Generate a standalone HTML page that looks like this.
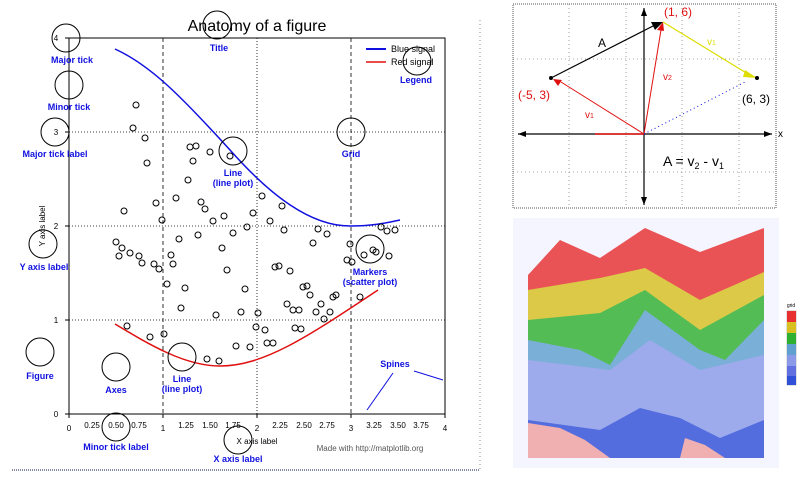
<!DOCTYPE html>
<html><head><meta charset="utf-8"><style>
html,body{margin:0;padding:0;background:#fff;width:800px;height:480px;overflow:hidden}
svg{display:block}
text{font-family:"Liberation Sans",sans-serif}
.a{fill:#1010e0;font-weight:bold;font-size:9px;text-anchor:middle}
.t{font-size:8px;fill:#000;text-anchor:middle}
.c{fill:none;stroke:#000;stroke-width:1}
</style></head><body>
<svg width="800" height="480" viewBox="0 0 800 480">
<line x1="12" y1="470" x2="480" y2="470" stroke="#88a" stroke-width="2" stroke-dasharray="1,1"/>
<line x1="480" y1="20" x2="480" y2="470" stroke="#888" stroke-dasharray="1,3"/>
<text x="257" y="31" font-size="16" text-anchor="middle">Anatomy of a figure</text>
<g stroke="#000" stroke-width="0.8">
<line x1="163" y1="38" x2="163" y2="414" stroke-dasharray="4,3"/>
<line x1="351" y1="38" x2="351" y2="414" stroke-dasharray="4,3"/>
<line x1="257" y1="38" x2="257" y2="414" stroke-dasharray="1,2"/>
<line x1="69" y1="132" x2="445" y2="132" stroke-dasharray="1,2"/>
<line x1="69" y1="226" x2="445" y2="226" stroke-dasharray="1,2"/>
<line x1="69" y1="320" x2="445" y2="320" stroke-dasharray="1,2"/>
</g>
<rect x="69" y="38" width="376" height="376" fill="none" stroke="#000" stroke-width="1"/>
<g stroke="#000">
<line x1="69" y1="414" x2="69" y2="418"/><line x1="163" y1="414" x2="163" y2="418"/><line x1="257" y1="414" x2="257" y2="418"/><line x1="351" y1="414" x2="351" y2="418"/><line x1="445" y1="414" x2="445" y2="418"/>
<line x1="65" y1="38" x2="69" y2="38"/><line x1="65" y1="132" x2="69" y2="132"/><line x1="65" y1="226" x2="69" y2="226"/><line x1="65" y1="320" x2="69" y2="320"/><line x1="65" y1="414" x2="69" y2="414"/>
</g>
<g class="t">
<text x="69" y="431">0</text><text x="163" y="431">1</text><text x="257" y="431">2</text><text x="351" y="431">3</text><text x="445" y="431">4</text>
<text x="92" y="428">0.25</text><text x="116" y="428">0.50</text><text x="139" y="428">0.75</text>
<text x="186" y="428">1.25</text><text x="210" y="428">1.50</text><text x="233" y="428">1.75</text>
<text x="280" y="428">2.25</text><text x="304" y="428">2.50</text><text x="327" y="428">2.75</text>
<text x="374" y="428">3.25</text><text x="398" y="428">3.50</text><text x="421" y="428">3.75</text>
<text x="56" y="417">0</text><text x="56" y="323">1</text><text x="56" y="229">2</text><text x="56" y="135">3</text><text x="56" y="41">4</text>
<text x="257" y="444">X axis label</text>
<text x="45" y="226" transform="rotate(-90 45 226)">Y axis label</text>
<text x="370" y="451" fill="#555">Made with http://matplotlib.org</text>
</g>
<path d="M115,49 C150,65 180,95 230,150 C270,195 310,226 350,226 C375,226 390,222 400,220" fill="none" stroke="#1010e0" stroke-width="1.5"/>
<path d="M115,324 C150,345 185,366 220,366 C265,366 310,335 378,290" fill="none" stroke="#e01010" stroke-width="1.5"/>
<line x1="366" y1="49" x2="386" y2="49" stroke="#1010e0" stroke-width="2"/>
<line x1="366" y1="62" x2="386" y2="62" stroke="#e01010" stroke-width="1.5"/>
<text x="391" y="52" font-size="9">Blue signal</text>
<text x="391" y="65" font-size="9">Red signal</text>
<g class="c" stroke-width="0.9">
<circle cx="136" cy="105" r="3"/><circle cx="133" cy="128" r="3"/><circle cx="145" cy="138" r="3"/><circle cx="147" cy="163" r="3"/><circle cx="124" cy="211" r="3"/><circle cx="116" cy="242" r="3"/><circle cx="122" cy="248" r="3"/><circle cx="119" cy="256" r="3"/><circle cx="130" cy="253" r="3"/><circle cx="139" cy="256" r="3"/><circle cx="142" cy="263" r="3"/><circle cx="154" cy="264" r="3"/><circle cx="159" cy="269" r="3"/><circle cx="156" cy="203" r="3"/><circle cx="162" cy="220" r="3"/><circle cx="127" cy="326" r="3"/><circle cx="150" cy="337" r="3"/><circle cx="164" cy="334" r="3"/><circle cx="176" cy="198" r="3"/><circle cx="188" cy="180" r="3"/><circle cx="193" cy="161" r="3"/><circle cx="190" cy="147" r="3"/><circle cx="196" cy="146" r="3"/><circle cx="210" cy="152" r="3"/><circle cx="230" cy="156" r="3"/><circle cx="179" cy="239" r="3"/><circle cx="171" cy="255" r="3"/><circle cx="173" cy="264" r="3"/><circle cx="167" cy="284" r="3"/><circle cx="185" cy="288" r="3"/><circle cx="181" cy="308" r="3"/><circle cx="201" cy="202" r="3"/><circle cx="205" cy="209" r="3"/><circle cx="213" cy="221" r="3"/><circle cx="224" cy="216" r="3"/><circle cx="198" cy="235" r="3"/><circle cx="222" cy="248" r="3"/><circle cx="233" cy="233" r="3"/><circle cx="247" cy="227" r="3"/><circle cx="253" cy="213" r="3"/><circle cx="262" cy="196" r="3"/><circle cx="270" cy="221" r="3"/><circle cx="282" cy="206" r="3"/><circle cx="284" cy="230" r="3"/><circle cx="227" cy="270" r="3"/><circle cx="245" cy="289" r="3"/><circle cx="216" cy="315" r="3"/><circle cx="241" cy="312" r="3"/><circle cx="258" cy="313" r="3"/><circle cx="256" cy="327" r="3"/><circle cx="265" cy="330" r="3"/><circle cx="267" cy="343" r="3"/><circle cx="273" cy="343" r="3"/><circle cx="236" cy="346" r="3"/><circle cx="250" cy="347" r="3"/><circle cx="207" cy="359" r="3"/><circle cx="219" cy="361" r="3"/><circle cx="275" cy="267" r="3"/><circle cx="279" cy="266" r="3"/><circle cx="290" cy="271" r="3"/><circle cx="303" cy="287" r="3"/><circle cx="307" cy="286" r="3"/><circle cx="310" cy="295" r="3"/><circle cx="287" cy="304" r="3"/><circle cx="293" cy="310" r="3"/><circle cx="299" cy="310" r="3"/><circle cx="316" cy="312" r="3"/><circle cx="321" cy="304" r="3"/><circle cx="330" cy="312" r="3"/><circle cx="324" cy="319" r="3"/><circle cx="295" cy="328" r="3"/><circle cx="301" cy="329" r="3"/><circle cx="313" cy="243" r="3"/><circle cx="318" cy="229" r="3"/><circle cx="327" cy="234" r="3"/><circle cx="333" cy="297" r="3"/><circle cx="336" cy="295" r="3"/><circle cx="347" cy="260" r="3"/><circle cx="352" cy="262" r="3"/><circle cx="350" cy="244" r="3"/><circle cx="364" cy="255" r="3"/><circle cx="373" cy="250" r="3"/><circle cx="376" cy="252" r="3"/><circle cx="389" cy="256" r="3"/><circle cx="381" cy="227" r="3"/><circle cx="387" cy="231" r="3"/><circle cx="395" cy="230" r="3"/><circle cx="360" cy="297" r="3"/>
</g>
<g class="c">
<circle cx="66" cy="38" r="14"/><circle cx="69" cy="85" r="14"/><circle cx="55" cy="132" r="14"/><circle cx="217" cy="25" r="14"/><circle cx="233" cy="151" r="14"/><circle cx="351" cy="132" r="14"/><circle cx="417" cy="61" r="14"/><circle cx="43" cy="244" r="14"/><circle cx="370" cy="249" r="14"/><circle cx="40" cy="352" r="14"/><circle cx="116" cy="367" r="14"/><circle cx="182" cy="357" r="14"/><circle cx="116" cy="427" r="14"/><circle cx="238" cy="440" r="14"/>
</g>
<g class="a">
<text x="72" y="63">Major tick</text><text x="69" y="110">Minor tick</text><text x="55" y="157">Major tick label</text><text x="219" y="51">Title</text><text x="416" y="83">Legend</text>
<text x="233" y="176">Line</text><text x="233" y="186">(line plot)</text><text x="351" y="157">Grid</text>
<text x="44" y="270">Y axis label</text><text x="370" y="275">Markers</text><text x="370" y="285">(scatter plot)</text>
<text x="40" y="379">Figure</text><text x="116" y="393">Axes</text><text x="182" y="382">Line</text><text x="182" y="392">(line plot)</text>
<text x="395" y="367">Spines</text><text x="116" y="450">Minor tick label</text><text x="238" y="462">X axis label</text>
</g>
<g stroke="#1010e0" fill="#1010e0">
<line x1="393" y1="373" x2="367" y2="410"/><line x1="414" y1="371" x2="443" y2="380"/>
</g>
<rect x="513" y="4" width="263" height="204" fill="none" stroke="#555" stroke-dasharray="1,1"/>
<g stroke="#888" stroke-dasharray="1,3" stroke-width="0.8">
<line x1="513" y1="59" x2="776" y2="59"/><line x1="513" y1="172" x2="776" y2="172"/>
<line x1="569" y1="4" x2="569" y2="208"/><line x1="626" y1="4" x2="626" y2="208"/><line x1="682" y1="4" x2="682" y2="208"/><line x1="739" y1="4" x2="739" y2="208"/>
</g>
<g stroke="#000" stroke-width="1.2">
<line x1="518" y1="134" x2="772" y2="134"/><line x1="644" y1="8" x2="644" y2="205"/>
</g>
<polygon points="518,134 526,131 526,137" fill="#000"/><polygon points="772,134 764,131 764,137" fill="#000"/>
<polygon points="644,8 641,16 647,16" fill="#000"/><polygon points="644,205 641,197 647,197" fill="#000"/>
<line x1="551" y1="78" x2="655" y2="25" stroke="#000" stroke-width="1.2"/><polygon points="663,22 651,22 655,30" fill="#000"/>
<line x1="644" y1="134" x2="561" y2="82" stroke="#e01010"/><polygon points="553,79 562,80 558,86" fill="#e01010"/>
<line x1="644" y1="134" x2="661" y2="30" stroke="#e01010"/><polygon points="663,22 657,30 664,31" fill="#e01010"/>
<line x1="663" y1="22" x2="748" y2="74" stroke="#dddd00" stroke-width="1.2"/><polygon points="757,78 745,70 743,77" fill="#dddd00"/>
<line x1="644" y1="134" x2="745" y2="82" stroke="#1010e0" stroke-dasharray="1,3"/>
<line x1="595" y1="134" x2="644" y2="134" stroke="#e01010" stroke-width="1.5"/>
<circle cx="551" cy="78" r="2" fill="#000"/><circle cx="757" cy="78" r="2" fill="#000"/>
<g font-size="12">
<text x="598" y="47">A</text><text x="664" y="16" fill="#e01010">(1, 6)</text><text x="518" y="99" fill="#e01010">(-5, 3)</text><text x="742" y="103">(6, 3)</text>
<text x="663" y="166" font-size="14">A = v<tspan font-size="9" dy="3">2</tspan><tspan dy="-3"> - v</tspan><tspan font-size="9" dy="3">1</tspan></text>
<text x="778" y="137" font-size="10">x</text>
<text x="663" y="80" fill="#e01010" font-size="10">v<tspan font-size="7">2</tspan></text>
<text x="585" y="118" fill="#e01010" font-size="10">v<tspan font-size="7">1</tspan></text>
<text x="707" y="45" fill="#dd0" font-size="10">v<tspan font-size="7">1</tspan></text>
</g>
<rect x="513" y="218" width="266" height="250" fill="#eef" opacity="0.6"/>
<g opacity="0.82">
<polygon points="528,275 560,240 600,258 645,228 700,252 764,228 764,458 528,458" fill="#e83030"/>
<polygon points="528,290 600,278 645,268 700,300 764,272 764,458 528,458" fill="#d8c020"/>
<polygon points="528,320 600,313 645,290 700,330 764,295 764,458 528,458" fill="#30b030"/>
<polygon points="528,340 580,350 610,365 645,310 700,350 725,360 764,320 764,458 528,458" fill="#60a0d0"/>
<polygon points="528,360 610,370 650,340 700,370 764,355 764,458 528,458" fill="#8a9ae8"/>
<polygon points="528,420 600,430 640,408 680,418 720,438 764,420 764,458 528,458" fill="#3050d8"/>
<polygon points="528,423 560,428 585,440 610,458 528,458" fill="#f0a0a0"/>
<polygon points="680,458 685,438 705,445 725,458" fill="#f0a0a0"/>
</g>
<rect x="787" y="311" width="9" height="74" fill="none" stroke="#888" stroke-width="0.5"/>
<rect x="787" y="311" width="9" height="11" fill="#e83030"/><rect x="787" y="322" width="9" height="11" fill="#d8c020"/><rect x="787" y="333" width="9" height="11" fill="#30b030"/><rect x="787" y="344" width="9" height="11" fill="#60a0d0"/><rect x="787" y="355" width="9" height="11" fill="#8a9ae8"/><rect x="787" y="366" width="9" height="10" fill="#6070e0"/><rect x="787" y="376" width="9" height="9" fill="#3050d8"/>
<text x="791" y="307" font-size="5" text-anchor="middle">grid</text>
</svg>
</body></html>
